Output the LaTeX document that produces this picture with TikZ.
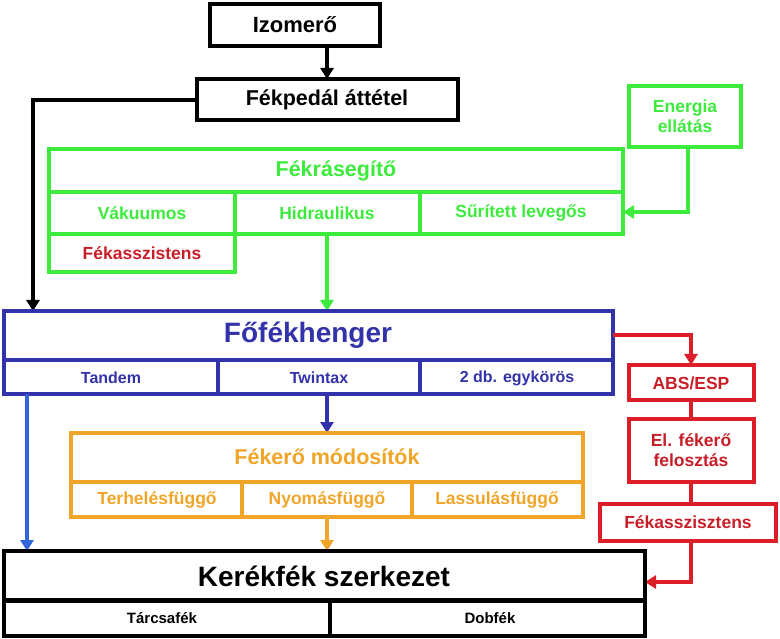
\documentclass[tikz,border=0pt]{standalone}
\usepackage{fontspec}
\setmainfont{Liberation Sans}
\usetikzlibrary{arrows.meta}
\definecolor{gr}{RGB}{60,235,60}
\definecolor{bl}{RGB}{50,50,170}
\definecolor{bla}{RGB}{50,100,220}
\definecolor{rd}{RGB}{220,30,40}
\definecolor{rdt}{RGB}{200,30,40}
\definecolor{og}{RGB}{240,165,40}
\tikzset{x=1pt,y=-1pt,
 bx/.style={line width=3.5pt},
 arr/.style={line width=3.5pt,-{Triangle[length=11pt,width=13pt]}},
 lbl/.style={font=\bfseries\fontsize{17.5}{20}\selectfont}}
\begin{document}
\begin{tikzpicture}
\useasboundingbox (0,0) rectangle (780,639);
% Izomero
\draw[bx] (210,4) rectangle (380,46);
\node[font=\bfseries\fontsize{22}{24}\selectfont] (izo) at (295,25) {Izomerő};
\draw[bx] (197,79) rectangle (458,120);
\node[font=\bfseries\fontsize{21.5}{24}\selectfont] (fp) at (327,100) {Fékpedál áttétel};
\coordinate (izob) at (327,46); \coordinate (fpt) at (327,79);
\draw[arr] (izob) -- (fpt);
% Energia
\draw[bx,gr] (629,86) rectangle (741,147);
\node[lbl,text=gr,align=center] (en) at (685,116) {Energia\\ellátás};
% Fekrasegito
\draw[bx,gr] (49,149) rectangle (623,234);
\draw[bx,gr] (49,192) -- (623,192) (235,192) -- (235,234) (420,192) -- (420,234);
\draw[bx,gr] (49,234) rectangle (235,272);
\node[font=\bfseries\fontsize{21.5}{24}\selectfont,text=gr] (fr) at (336,171) {Fékrásegítő};
\node[lbl,text=gr] (vak) at (142,213) {Vákuumos};
\node[lbl,text=gr] (hid) at (327,213) {Hidraulikus};
\node[lbl,text=gr] (sur) at (521,213) {Sűrített levegős};
\node[lbl,text=rdt] (fka) at (142,253) {Fékasszistens};
\coordinate (enb) at (688,147); \coordinate (surr) at (623,212);
\draw[arr,gr] (enb) |- (surr);
% black arrow
\coordinate (fpl) at (197,100); \coordinate (fft1) at (33,311);
\draw[arr] (fpl) -| (fft1);
\coordinate (hb) at (327,234); \coordinate (fft2) at (327,311);
\draw[arr,gr] (hb) -- (fft2);
% Fofekhenger
\draw[bx,bl] (4,311) rectangle (613,394);
\draw[bx,bl] (4,360) -- (613,360) (218,360) -- (218,394) (420,360) -- (420,394);
\node[font=\bfseries\fontsize{28}{30}\selectfont,text=bl] (ff) at (308,335) {Főfékhenger};
\node[font=\bfseries\fontsize{16}{18}\selectfont,text=bl] (tan) at (111,378) {Tandem};
\node[font=\bfseries\fontsize{16}{18}\selectfont,text=bl] (twi) at (319,378) {Twintax};
\node[font=\bfseries\fontsize{16}{18}\selectfont,text=bl] (egy) at (517,378) {2 db. egykörös};
% Red column
\draw[bx,rd] (629,365) rectangle (754,400);
\node[lbl,text=rdt] (abs) at (691,383) {ABS/ESP};
\draw[bx,rd] (629,419) rectangle (754,482);
\node[lbl,text=rdt,align=center] (el) at (691,450) {El. fékerő\\felosztás};
\draw[bx,rd] (600,504) rectangle (776,541);
\node[lbl,text=rdt] (fk2) at (688,522) {Fékasszisztens};
\coordinate (ffr) at (613,335); \coordinate (abst) at (691,365);
\draw[arr,rd] (ffr) -| (abst);
\coordinate (absb) at (691,400); \coordinate (elt) at (691,419);
\draw[bx,rd] (absb) -- (elt);
\coordinate (elb) at (691,482); \coordinate (fkt) at (691,504);
\draw[bx,rd] (elb) -- (fkt);
\coordinate (fkb) at (691,541); \coordinate (kr) at (645,582);
\draw[arr,rd] (fkb) |- (kr);
% blue arrows
\coordinate (tb) at (27,394); \coordinate (kt1) at (27,551);
\draw[arr,bla] (tb) -- (kt1);
\coordinate (twb) at (327,394); \coordinate (mt) at (327,433);
\draw[arr,bl] (twb) -- (mt);
% Fekero modositok
\draw[bx,og] (71,433) rectangle (583,517);
\draw[bx,og] (71,482) -- (583,482) (242,482) -- (242,517) (412,482) -- (412,517);
\node[font=\bfseries\fontsize{21.5}{24}\selectfont,text=og] (fm) at (327,457) {Fékerő módosítók};
\node[lbl,text=og] (ter) at (157,500) {Terhelésfüggő};
\node[lbl,text=og] (nyo) at (327,500) {Nyomásfüggő};
\node[lbl,text=og] (las) at (497,500) {Lassulásfüggő};
\coordinate (nb) at (327,517); \coordinate (kt2) at (327,551);
\draw[arr,og] (nb) -- (kt2);
% Kerekfek
\draw[bx] (4,551) rectangle (645,636);
\draw[line width=5pt] (4,600) -- (645,600);
\draw[bx] (330,600) -- (330,636);
\node[font=\bfseries\fontsize{28}{30}\selectfont] (kf) at (324,576) {Kerékfék szerkezet};
\node[font=\bfseries\fontsize{15}{17}\selectfont] (tar) at (162,618) {Tárcsafék};
\node[font=\bfseries\fontsize{15}{17}\selectfont] (dob) at (490,618) {Dobfék};
\end{tikzpicture}
\end{document}
